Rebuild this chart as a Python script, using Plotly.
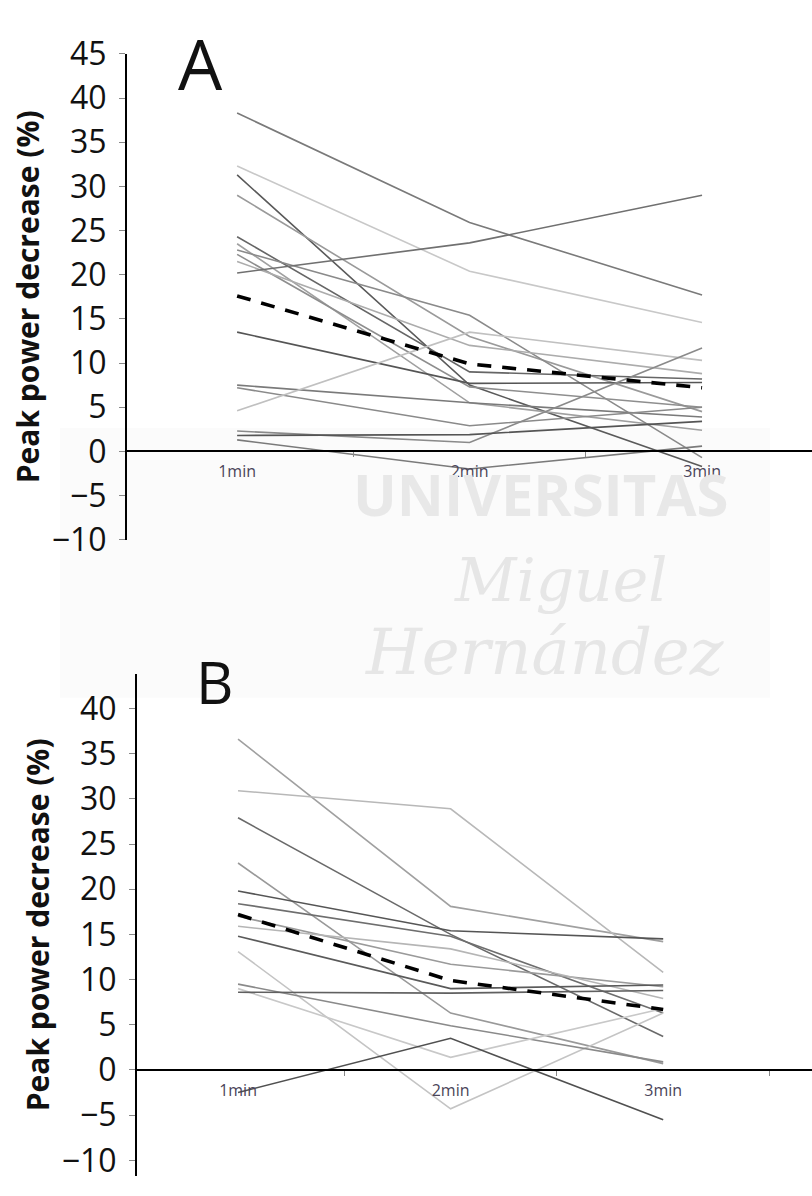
import plotly.graph_objects as go

W, H = 812, 1196

time_labels = ["1min", "2min", "3min"]
y_ticks_a = list(range(-10, 50, 5))
y_ticks_b = list(range(-10, 45, 5))

# Panel A: individual subjects (peak power decrease, %)
a_series = [
    [38.3, 25.9, 17.7],
    [32.3, 20.4, 14.6],
    [31.3, 7.5, -1.7],
    [29.0, 13.0, 4.5],
    [24.3, 9.0, 8.2],
    [23.5, 5.5, 2.4],
    [22.8, 15.4, -0.7],
    [22.3, 7.3, 5.0],
    [21.5, 12.0, 8.8],
    [20.2, 23.6, 29.0],
    [13.5, 7.7, 7.8],
    [7.5, 5.5, 3.9],
    [7.2, 2.9, 5.0],
    [4.6, 13.5, 10.3],
    [2.3, 1.0, 11.7],
    [1.3, -2.0, 0.6],
    [1.8, 1.9, 3.4],
]
a_shades = ["#7a7a7a", "#c8c8c8", "#5a5a5a", "#9a9a9a", "#666666", "#a0a0a0",
            "#8a8a8a", "#8e8e8e", "#acacac", "#707070", "#555555", "#7a7a7a",
            "#8a8a8a", "#c0c0c0", "#8a8a8a", "#7a7a7a", "#555555"]
a_mean = [17.6, 9.9, 7.2]

# Panel B: individual subjects
b_series = [
    [36.6, 18.1, 14.2],
    [30.9, 28.9, 10.8],
    [27.9, 15.0, 3.7],
    [22.9, 6.3, 0.7],
    [19.8, 15.4, 14.5],
    [18.4, 14.8, 6.3],
    [17.0, 11.7, 9.2],
    [15.9, 13.4, 7.9],
    [14.8, 9.0, 9.4],
    [13.1, -4.3, 6.3],
    [9.5, 4.9, 0.9],
    [9.0, 1.4, 6.8],
    [8.6, 8.5, 8.8],
    [-2.5, 3.5, -5.5],
]
b_shades = ["#a0a0a0", "#b8b8b8", "#6a6a6a", "#999999", "#555555", "#6e6e6e",
            "#9a9a9a", "#b5b5b5", "#5a5a5a", "#c4c4c4", "#8a8a8a", "#c8c8c8",
            "#606060", "#505050"]
b_mean = [17.2, 9.9, 6.7]

fig = go.Figure()


def add_panel(series, shades, mean, xa, ya):
    for vals, col in zip(series, shades):
        fig.add_trace(go.Scatter(x=time_labels, y=vals, mode="lines",
                                 line=dict(color=col, width=1.6),
                                 xaxis=xa, yaxis=ya, showlegend=False,
                                 hoverinfo="skip"))
    fig.add_trace(go.Scatter(x=time_labels, y=mean, mode="lines",
                             line=dict(color="black", width=3.6, dash="14px,11px"),
                             xaxis=xa, yaxis=ya, showlegend=False,
                             hoverinfo="skip"))


add_panel(a_series, a_shades, a_mean, "x", "y")
add_panel(b_series, b_shades, b_mean, "x2", "y2")


def px_x(p):
    return p / W


def px_y(p):
    return 1 - p / H


tick_font = dict(family="Open Sans", size=32, color="#111111")
title_font = dict(family="Open Sans", size=30, color="#111111")
cat_font = dict(family="Open Sans", size=16, color="#4a4458")

common_x = dict(type="category", anchor="free", showline=True, linecolor="black",
                linewidth=2, ticks="outside", tickson="boundaries", ticklen=5,
                tickcolor="#888888", tickfont=cat_font, showgrid=False,
                zeroline=False, ticklabelstandoff=6)
common_y = dict(anchor="free", showline=True, linecolor="black", linewidth=2,
                ticks="outside", ticklen=6, tickcolor="#888888",
                tickfont=tick_font, showgrid=False, zeroline=False,
                ticklabelstandoff=6)

fig.update_layout(
    width=W, height=H,
    margin=dict(l=0, r=0, t=0, b=0),
    paper_bgcolor="white", plot_bgcolor="rgba(0,0,0,0)",
    xaxis=dict(common_x, domain=[px_x(126), 1], position=px_y(444),
               range=[-0.478, 2.473]),
    yaxis=dict(common_y, domain=[px_y(536), px_y(32)], position=px_x(126),
               range=[-10, 45], tickvals=y_ticks_a,
               title=dict(text="<b>Peak power decrease (%)</b>", font=title_font,
                          standoff=2)),
    xaxis2=dict(common_x, domain=[px_x(136), 1], position=px_y(1086),
                range=[-0.480, 2.70]),
    yaxis2=dict(common_y, domain=[0, px_y(675)], position=px_x(136),
                range=[-11.73, 43.84], tickvals=y_ticks_b,
                title=dict(text="<b>Peak power decrease (%)</b>", font=title_font,
                           standoff=2)),
)

# faint institutional watermark behind the figure
fig.add_shape(type="rect", xref="paper", yref="paper", layer="below",
              x0=px_x(60), x1=px_x(770), y0=px_y(700), y1=px_y(420),
              fillcolor="#fbfbfb", line=dict(width=0))
wm = [
    ("UNIVERSITAS", 540, 488, dict(family="Open Sans", size=58, color="#e8e8e8"), True),
    ("Miguel", 560, 578, dict(family="DejaVu Serif", size=60, color="#e6e6e6"), False),
    ("Hernández", 545, 652, dict(family="DejaVu Serif", size=64, color="#e6e6e6"), False),
]
for txt, cx, cy, f, bold in wm:
    t = f"<b>{txt}</b>" if bold else f"<i>{txt}</i>"
    fig.add_annotation(text=t, xref="paper", yref="paper", x=px_x(cx), y=px_y(cy),
                       showarrow=False, font=f, xanchor="center", yanchor="middle")

# panel letters
fig.add_annotation(text="A", xref="paper", yref="paper", x=px_x(200), y=px_y(42),
                   showarrow=False, font=dict(family="Open Sans", size=70, color="#111111"),
                   xanchor="center", yanchor="middle")
fig.add_annotation(text="B", xref="paper", yref="paper", x=px_x(215), y=px_y(683),
                   showarrow=False, font=dict(family="Open Sans", size=58, color="#111111"),
                   xanchor="center", yanchor="middle")

fig.write_html("out.html")
